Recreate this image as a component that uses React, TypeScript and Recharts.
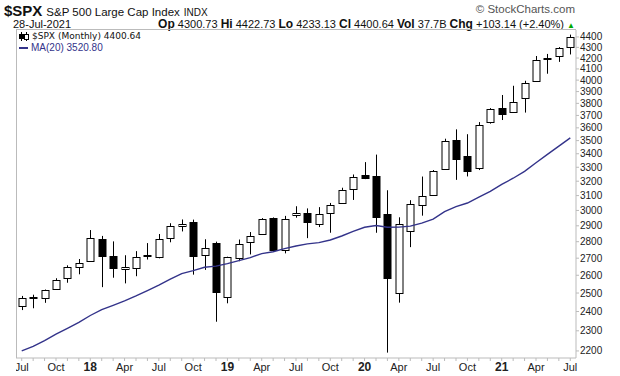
import React from 'react';
import { ComposedChart, Bar, Line, XAxis, YAxis } from 'recharts';

const months = [
  '2017-07', '2017-08', '2017-09', '2017-10', '2017-11', '2017-12',
  '2018-01', '2018-02', '2018-03', '2018-04', '2018-05', '2018-06',
  '2018-07', '2018-08', '2018-09', '2018-10', '2018-11', '2018-12',
  '2019-01', '2019-02', '2019-03', '2019-04', '2019-05', '2019-06',
  '2019-07', '2019-08', '2019-09', '2019-10', '2019-11', '2019-12',
  '2020-01', '2020-02', '2020-03', '2020-04', '2020-05', '2020-06',
  '2020-07', '2020-08', '2020-09', '2020-10', '2020-11', '2020-12',
  '2021-01', '2021-02', '2021-03', '2021-04', '2021-05', '2021-06',
  '2021-07',
];

const opens = [
  2431.39, 2477.1, 2474.42, 2521.2, 2583.21, 2645.1,
  2683.73, 2816.45, 2715.22, 2633.45, 2642.96, 2718.7, 2704.95, 2821.17, 2896.96, 2926.29, 2717.58, 2790.5,
  2476.96, 2702.32, 2798.22, 2848.63, 2952.33, 2751.53, 2971.41, 2980.32, 2909.01, 2983.69, 3050.72, 3143.85,
  3244.67, 3235.66, 2974.28, 2498.08, 2869.09, 3038.78, 3105.92, 3288.26, 3507.44, 3385.87, 3296.2, 3645.87,
  3764.61, 3731.17, 3842.51, 3992.78, 4191.98, 4216.52, 4300.73,
];

const highs = [
  2484.04, 2490.87, 2519.44, 2582.98, 2657.74, 2694.97,
  2872.87, 2835.96, 2801.9, 2717.49, 2742.24, 2791.47, 2848.03, 2916.5, 2940.91, 2939.86, 2815.15, 2800.18,
  2708.95, 2813.49, 2860.31, 2949.52, 2954.13, 2964.15, 3027.98, 3013.59, 3021.99, 3050.1, 3154.26, 3247.93,
  3337.77, 3393.52, 3136.72, 2954.86, 3068.67, 3233.13, 3279.99, 3514.77, 3588.11, 3549.85, 3645.99, 3760.2,
  3870.9, 3950.43, 3994.41, 4218.78, 4238.04, 4302.43, 4422.73,
];

const lows = [
  2407.7, 2417.35, 2446.55, 2520.4, 2557.45, 2605.52,
  2682.36, 2532.69, 2585.89, 2553.8, 2594.62, 2691.99, 2698.95, 2796.34, 2864.12, 2603.54, 2631.09, 2346.58,
  2443.96, 2681.83, 2722.27, 2848.63, 2750.52, 2728.81, 2952.22, 2822.12, 2891.85, 2855.94, 3050.72, 3070.33,
  3214.64, 2855.84, 2191.86, 2447.49, 2766.64, 2965.66, 3101.17, 3284.53, 3209.45, 3233.94, 3279.74, 3633.4,
  3662.71, 3725.62, 3723.34, 3992.78, 4056.88, 4164.4, 4233.13,
];

const closes = [
  2470.3, 2471.65, 2519.36, 2575.26, 2647.58, 2673.61,
  2823.81, 2713.83, 2640.87, 2648.05, 2705.27, 2718.37, 2816.29, 2901.52, 2913.98, 2711.74, 2760.17, 2506.85,
  2704.1, 2784.49, 2834.4, 2945.83, 2752.06, 2941.76, 2980.38, 2926.46, 2976.74, 3037.56, 3140.98, 3230.78,
  3225.52, 2954.22, 2584.59, 2912.43, 3044.31, 3100.29, 3271.12, 3500.31, 3363.0, 3269.96, 3621.63, 3756.07,
  3714.24, 3811.15, 3972.89, 4181.17, 4204.11, 4297.5, 4400.64,
];

const ma20 = [
  2200.44, 2221.83, 2250.78, 2282.93, 2312.33, 2342.74,
  2379.08, 2409.83, 2433.2, 2457.05, 2483.9, 2513.51, 2544.39, 2577.52, 2609.28, 2626.68, 2646.55, 2652.69,
  2667.3, 2685.36, 2703.56, 2727.27, 2738.9, 2757.23, 2773.87, 2786.51, 2794.16, 2810.34, 2835.35, 2864.49,
  2890.5, 2902.29, 2890.71, 2891.25, 2897.77, 2917.2, 2942.74, 2992.42, 3025.36, 3049.64, 3089.0, 3129.51,
  3177.62, 3221.09, 3270.71, 3333.45, 3394.82, 3457.91, 3520.8,
];

const priceTicks = [
  2200, 2300, 2400, 2500, 2600, 2700, 2800, 2900, 3000, 3100, 3200, 3300,
  3400, 3500, 3600, 3700, 3800, 3900, 4000, 4100, 4200, 4300, 4400,
];

const data = months.map((m, i) => ({
  m,
  range: [lows[i], highs[i]],
  open: opens[i],
  high: highs[i],
  low: lows[i],
  close: closes[i],
  ma: ma20[i],
}));

const FONT = '"Liberation Sans", Arial, sans-serif';

// draws one candle inside the low..high bar that recharts positioned
const Candle = (props: any) => {
  const { x, y, width, height, payload } = props;
  const { open, close, high, low } = payload;
  const yTop = Math.min(y, y + height);
  const span = Math.abs(height);
  const lh = Math.log(high);
  const ll = Math.log(low);
  const toY = (v: number) => yTop + ((lh - Math.log(v)) / (lh - ll)) * span;
  const cx = Math.round(x + width / 2) + 0.5;
  const bw = 7;
  const yo = toY(open);
  const yc = toY(close);
  const top = Math.round(Math.min(yo, yc)) + 0.5;
  const bot = Math.round(Math.max(yo, yc)) + 0.5;
  const up = close >= open;
  return (
    <g>
      <line x1={cx} x2={cx} y1={yTop} y2={top} stroke="#000" />
      <line x1={cx} x2={cx} y1={bot} y2={yTop + span} stroke="#000" />
      <rect
        x={cx - bw / 2}
        y={top}
        width={bw}
        height={Math.max(bot - top, 1)}
        fill={up ? '#fff' : '#000'}
        stroke="#000"
      />
    </g>
  );
};

const MonthTick = (props: any) => {
  const { x, y, payload } = props;
  const [yr, mo] = String(payload.value).split('-');
  const mm = Number(mo);
  const names: Record<number, string> = { 4: 'Apr', 7: 'Jul', 10: 'Oct' };
  if (mm !== 1 && !names[mm]) return <g />;
  const isYear = mm === 1;
  return (
    <text
      x={x}
      y={y}
      dy={8}
      textAnchor="middle"
      fontSize={isYear ? 12 : 11}
      fontWeight={isYear ? 'bold' : 'normal'}
      fontFamily={FONT}
      fill="#222"
    >
      {isYear ? yr.slice(2) : names[mm]}
    </text>
  );
};

const B = ({ children }: { children: React.ReactNode }) => (
  <span style={{ fontWeight: 'bold', fontSize: 12 }}>{children}</span>
);

export default function App() {
  return (
    <div
      style={{
        position: 'absolute',
        left: 0,
        top: 0,
        width: 620,
        height: 376,
        background: '#fff',
        fontFamily: FONT,
        color: '#111',
        overflow: 'hidden',
      }}
    >
      <div style={{ position: 'absolute', left: 4, top: 3, whiteSpace: 'nowrap', lineHeight: '16px' }}>
        <span style={{ fontWeight: 'bold', fontSize: 15 }}>$SPX</span>
        <span style={{ fontSize: 11.5, marginLeft: 4 }}>S&amp;P 500 Large Cap Index</span>
        <span style={{ fontSize: 10, marginLeft: 4 }}>INDX</span>
      </div>
      <div style={{ position: 'absolute', right: 45, top: 3, fontSize: 11.5, color: '#555', whiteSpace: 'nowrap' }}>
        © StockCharts.com
      </div>
      <div style={{ position: 'absolute', left: 13, top: 18, fontSize: 11, whiteSpace: 'nowrap' }}>28-Jul-2021</div>
      <div style={{ position: 'absolute', right: 45, top: 17, fontSize: 11, whiteSpace: 'nowrap' }}>
        <B>Op</B> 4300.73 <B>Hi</B> 4422.73 <B>Lo</B> 4233.13 <B>Cl</B> 4400.64 <B>Vol</B> 37.7B <B>Chg</B>{' '}
        +103.14 (+2.40%) <span style={{ color: '#0a0', fontSize: 8 }}>▲</span>
      </div>

      <div style={{ position: 'absolute', left: 16, top: 30 }}>
        <ComposedChart
          width={604}
          height={346}
          data={data}
          margin={{ top: 0, right: 0, bottom: 0, left: 0 }}
        >
          <XAxis
            dataKey="m"
            interval={0}
            tick={<MonthTick />}
            tickSize={3}
            tickLine={{ stroke: '#bbb' }}
            axisLine={{ stroke: '#bbb' }}
            height={18}
          />
          <YAxis
            orientation="right"
            scale="log"
            domain={[2166, 4468]}
            allowDataOverflow
            ticks={priceTicks}
            interval={0}
            width={44}
            tickSize={3}
            tickMargin={1}
            tickLine={{ stroke: '#bbb' }}
            axisLine={{ stroke: '#bbb' }}
            tick={{ fontSize: 10, fill: '#222', fontFamily: FONT }}
          />
          <Bar dataKey="range" shape={<Candle />} isAnimationActive={false} />
          <Line
            type="linear"
            dataKey="ma"
            stroke="#33338a"
            strokeWidth={1.4}
            dot={false}
            isAnimationActive={false}
          />
        </ComposedChart>
      </div>

      {/* plot frame */}
      <div
        style={{
          position: 'absolute',
          left: 16,
          top: 29,
          width: 559,
          height: 328,
          borderLeft: '1px solid #bbb',
          borderTop: '1px solid #bbb',
          pointerEvents: 'none',
        }}
      />

      {/* legend */}
      <div style={{ position: 'absolute', left: 19, top: 31, lineHeight: '11px', whiteSpace: 'nowrap' }}>
        <div style={{ display: 'flex', alignItems: 'center' }}>
          <svg width={10} height={9} style={{ marginRight: 3 }}>
            <line x1={2.5} x2={2.5} y1={0} y2={9} stroke="#000" />
            <rect x={0.5} y={2.5} width={4} height={4} fill="#000" stroke="#000" />
            <line x1={7.5} x2={7.5} y1={0} y2={9} stroke="#000" />
            <rect x={5.5} y={2.5} width={4} height={5} fill="#fff" stroke="#000" />
          </svg>
          <span style={{ fontFamily: '"DejaVu Sans", Verdana, sans-serif', fontSize: 9 }}>
            $SPX (Monthly) 4400.64
          </span>
        </div>
        <div style={{ display: 'flex', alignItems: 'center', color: '#33338a' }}>
          <span style={{ display: 'inline-block', width: 9, height: 2, background: '#33338a', marginRight: 3 }} />
          <span style={{ fontSize: 10 }}>MA(20) 3520.80</span>
        </div>
      </div>
    </div>
  );
}
